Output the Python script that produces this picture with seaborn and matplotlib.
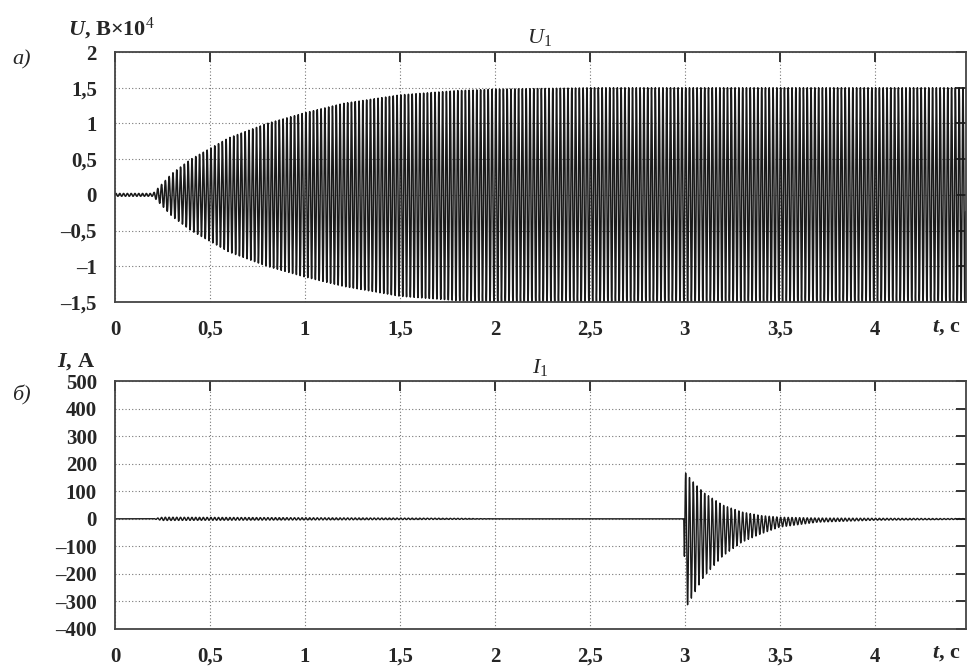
"""
Осциллограммы напряжения U1 и тока I1
"""
import numpy as np
import pandas as pd
import matplotlib
matplotlib.use("Agg")
import matplotlib.pyplot as plt
import seaborn as sns

# --- данные (огибающие) ---
FREQ_HZ = 50.0
T_END = 4.48

u_env_t = [0.0, 0.2, 0.3, 0.4, 0.5, 0.6, 0.8, 1.0, 1.2, 1.5, 1.8, 2.0, 2.5, 4.48]
u_env_top = [0.02, 0.02, 0.30, 0.50, 0.65, 0.80, 1.00, 1.15, 1.28, 1.40, 1.46, 1.48, 1.50, 1.50]
u_env_bot = [-0.02, -0.02, -0.30, -0.50, -0.65, -0.80, -1.00, -1.15, -1.28, -1.42, -1.48, -1.50, -1.50, -1.50]

i_env_t = [0.0, 0.2, 0.25, 1.0, 1.8, 2.0, 2.995, 3.0, 3.05, 3.1, 3.2, 3.3, 3.4, 3.5, 3.7, 4.0, 4.48]
i_env_top = [0, 0, 6, 4, 2, 0, 0, 170, 130, 95, 50, 25, 12, 6, 3, 2, 1]
i_env_bot = [0, 0, -6, -4, -2, 0, 0, -330, -270, -210, -135, -85, -55, -30, -12, -5, -2]

x_ticks = [0, 0.5, 1, 1.5, 2, 2.5, 3, 3.5, 4]
x_labels = ["0", "0,5", "1", "1,5", "2", "2,5", "3", "3,5", "4"]
u_ticks = [-1.5, -1, -0.5, 0, 0.5, 1, 1.5, 2]
u_labels = ["\u20131,5", "\u20131", "\u20130,5", "0", "0,5", "1", "1,5", "2"]
i_ticks = [-400, -300, -200, -100, 0, 100, 200, 300, 400, 500]
i_labels = ["\u2013400", "\u2013300", "\u2013200", "\u2013100", "0", "100", "200", "300", "400", "500"]


def make_wave(env_t, env_top, env_bot, fs=2000):
    t = np.arange(0, T_END, 1.0 / fs)
    top = np.interp(t, env_t, env_top)
    bot = np.interp(t, env_t, env_bot)
    mid = (top + bot) / 2
    half = (top - bot) / 2
    y = mid + half * np.sin(2 * np.pi * FREQ_HZ * t)
    return pd.DataFrame({"t": t, "y": y})


def style_axes(ax, yticks, ylabels, ylim):
    ax.set_xlim(0, T_END)
    ax.set_ylim(*ylim)
    ax.set_xticks(x_ticks)
    ax.set_xticklabels(x_labels)
    ax.set_yticks(yticks)
    ax.set_yticklabels(ylabels)
    ax.set_xlabel("")
    ax.set_ylabel("")
    ax.grid(True, linestyle=(0, (1, 2)), color="#777777", linewidth=0.8)
    ax.tick_params(direction="in", length=7, width=1.4, color="#333333",
                   top=True, right=True, labelsize=15, pad=13)
    for lab in ax.get_xticklabels() + ax.get_yticklabels():
        lab.set_fontweight("bold")
    for sp in ax.spines.values():
        sp.set_color("#444444")
        sp.set_linewidth(1.3)


sns.set_style("white")
plt.rcParams["font.family"] = ["Liberation Serif", "DejaVu Serif"]
plt.rcParams["mathtext.fontset"] = "custom"
plt.rcParams["mathtext.rm"] = "Liberation Serif"
plt.rcParams["mathtext.it"] = "Liberation Serif:italic"
plt.rcParams["mathtext.bf"] = "Liberation Serif:bold"
plt.rcParams["mathtext.bfit"] = "Liberation Serif:italic:bold"

fig = plt.figure(figsize=(9.69, 6.68), dpi=100)
ax1 = fig.add_axes([0.1187, 0.548, 0.878, 0.374])
ax2 = fig.add_axes([0.1187, 0.0584, 0.878, 0.371])

u_df = make_wave(u_env_t, u_env_top, u_env_bot)
i_df = make_wave(i_env_t, i_env_top, i_env_bot)

sns.lineplot(data=u_df, x="t", y="y", ax=ax1, estimator=None, sort=False,
             color="#1a1a1a", linewidth=1.1)
sns.lineplot(data=i_df, x="t", y="y", ax=ax2, estimator=None, sort=False,
             color="#1a1a1a", linewidth=1.0)

style_axes(ax1, u_ticks, u_labels, (-1.5, 2))
style_axes(ax2, i_ticks, i_labels, (-400, 500))

# подписи
fig.text(68 / 969, 1 - 35 / 668, r"$\mathbfit{U}$, В×10$^{4}$", fontsize=16,
         fontweight="bold", ha="left", va="baseline")
fig.text(12 / 969, 1 - 60 / 668, "a)", fontsize=16, style="italic", va="center")
fig.text(540 / 969, 1 - 38 / 668, r"$\mathit{U}_1$", fontsize=16, ha="center", va="center")

fig.text(57 / 969, 1 - 362 / 668, r"$\mathbfit{I}$, А", fontsize=16,
         fontweight="bold", ha="left", va="center")
fig.text(12 / 969, 1 - 395 / 668, "б)", fontsize=16, style="italic", va="center")
fig.text(540 / 969, 1 - 368 / 668, r"$\mathit{I}_1$", fontsize=16, ha="center", va="center")

for ax, ypos in ((ax1, 327), (ax2, 653)):
    fig.text(946 / 969, 1 - ypos / 668, r"$\mathbfit{t}$, с", fontsize=16,
             fontweight="bold", ha="center", va="center")

plt.savefig("out.png", dpi=100)
plt.close()
